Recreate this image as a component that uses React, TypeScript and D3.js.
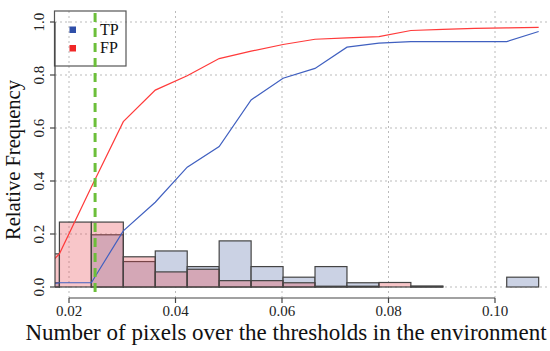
import React from "react";
import * as d3 from "d3";

// histogram bins (left edges), width 0.006
const binStarts = [0.0122, 0.0182, 0.0242, 0.0302, 0.0362, 0.0422, 0.0482, 0.0542, 0.0602, 0.0662, 0.0722, 0.0782, 0.0842, 0.0902, 0.0962, 0.1022];
const binWidth = 0.006;
const tpHist = [0.016, 0, 0.197, 0.096, 0.136, 0.077, 0.174, 0.077, 0.037, 0.077, 0.016, 0, 0.003, 0, 0, 0.037];
const fpHist = [0.125, 0.245, 0.245, 0.114, 0.057, 0.067, 0.024, 0.024, 0.016, 0.003, 0.003, 0.017, 0.003, 0, 0, 0];

// cumulative curves, at bin right edges
const cumX = [0.0122, 0.0182, 0.0242, 0.0302, 0.0362, 0.0422, 0.0482, 0.0542, 0.0602, 0.0662, 0.0722, 0.0782, 0.0842, 0.0902, 0.0962, 0.1022, 0.1082];
const tpCum = [0, 0.016, 0.016, 0.212, 0.32, 0.452, 0.53, 0.706, 0.788, 0.825, 0.905, 0.92, 0.926, 0.926, 0.926, 0.926, 0.964];
const fpCum = [0, 0.125, 0.377, 0.624, 0.743, 0.797, 0.862, 0.89, 0.915, 0.935, 0.94, 0.945, 0.968, 0.972, 0.976, 0.978, 0.98];

const threshold = 0.0249;
const xTicks = [0.02, 0.04, 0.06, 0.08, 0.1];
const yTicks = [0, 0.2, 0.4, 0.6, 0.8, 1.0];

const W = 550;
const H = 351;
const plot = { left: 55, right: 549, top: 11, bottom: 298 };
const font = "Liberation Serif";

export default function App() {
  const x = d3.scaleLinear().domain([0.02, 0.1]).range([69, 495]);
  const y = d3.scaleLinear().domain([0, 1]).range([287, 22]);

  const line = d3.line<number>()
    .x((_, i) => x(cumX[i]))
    .y(d => y(d));

  const bars = (vals: number[], fill: string) =>
    vals.map((v, i) =>
      v > 0 ? (
        <rect
          key={i}
          x={x(binStarts[i])}
          y={y(v)}
          width={x(binStarts[i] + binWidth) - x(binStarts[i])}
          height={y(0) - y(v)}
          fill={fill}
          stroke="#444"
          strokeWidth={1.2}
        />
      ) : null
    );

  return (
    <svg width={W} height={H} style={{ position: "absolute", left: 0, top: 0 }}>
      <defs>
        <clipPath id="plotClip">
          <rect x={plot.left} y={plot.top} width={plot.right - plot.left} height={plot.bottom - plot.top} />
        </clipPath>
      </defs>

      {/* grid */}
      <g stroke="#bbb" strokeWidth={1} strokeDasharray="2,3">
        {xTicks.map(t => (
          <line key={"gx" + t} x1={x(t)} x2={x(t)} y1={plot.top} y2={plot.bottom} />
        ))}
        {yTicks.map(t => (
          <line key={"gy" + t} x1={plot.left} x2={plot.right} y1={y(t)} y2={y(t)} />
        ))}
      </g>

      <g clipPath="url(#plotClip)">
        {bars(tpHist, "#cbd2e4")}
        {bars(fpHist, "rgba(232,71,81,0.31)")}
        <path d={line(tpCum) ?? ""} fill="none" stroke="#4060c0" strokeWidth={1.2} />
        <path d={line(fpCum) ?? ""} fill="none" stroke="#ff3a3a" strokeWidth={1.2} />
      </g>

      {/* legend */}
      <rect x={54.5} y={11} width={71.5} height={55} fill="none" stroke="#555" strokeWidth={1.2} />
      <rect x={69.5} y={26.5} width={6.5} height={6.5} fill="#2f4fa8" />
      <rect x={69.5} y={45} width={6.5} height={6.5} fill="#f02828" />
      <text x={100} y={35} fontSize={16} fontFamily={font} fill="#111">TP</text>
      <text x={100} y={53} fontSize={16} fontFamily={font} fill="#111">FP</text>

      {/* threshold */}
      <line x1={x(threshold)} x2={x(threshold)} y1={13} y2={plot.bottom} stroke="#6cbf3a" strokeWidth={3} strokeDasharray="9,6" />

      {/* axes */}
      <g stroke="#444" strokeWidth={1.2}>
        <line x1={plot.left} x2={plot.left} y1={y(1)} y2={y(0)} />
        {yTicks.map(t => (
          <line key={"ty" + t} x1={plot.left - 5} x2={plot.left} y1={y(t)} y2={y(t)} />
        ))}
        <line x1={x(0.02)} x2={x(0.1)} y1={plot.bottom} y2={plot.bottom} />
        {xTicks.map(t => (
          <line key={"tx" + t} x1={x(t)} x2={x(t)} y1={plot.bottom} y2={plot.bottom + 5} />
        ))}
      </g>
      {yTicks.map(t => (
        <text
          key={"ly" + t}
          transform={`translate(${plot.left - 11},${y(t)}) rotate(-90)`}
          textAnchor="middle"
          fontSize={15}
          fontFamily={font}
          fill="#222"
        >
          {d3.format(".1f")(t)}
        </text>
      ))}
      {xTicks.map(t => (
        <text key={"lx" + t} x={x(t)} y={plot.bottom + 18} textAnchor="middle" fontSize={15} fontFamily={font} fill="#222">
          {d3.format(".2f")(t)}
        </text>
      ))}

      <text transform={`translate(20,160) rotate(-90)`} textAnchor="middle" fontSize={20.5} fontFamily={font} fill="#111">
        Relative Frequency
      </text>
      <text x={286} y={340} textAnchor="middle" fontSize={23} fontFamily={font} fill="#111">
        Number of pixels over the thresholds in the environment
      </text>
    </svg>
  );
}
